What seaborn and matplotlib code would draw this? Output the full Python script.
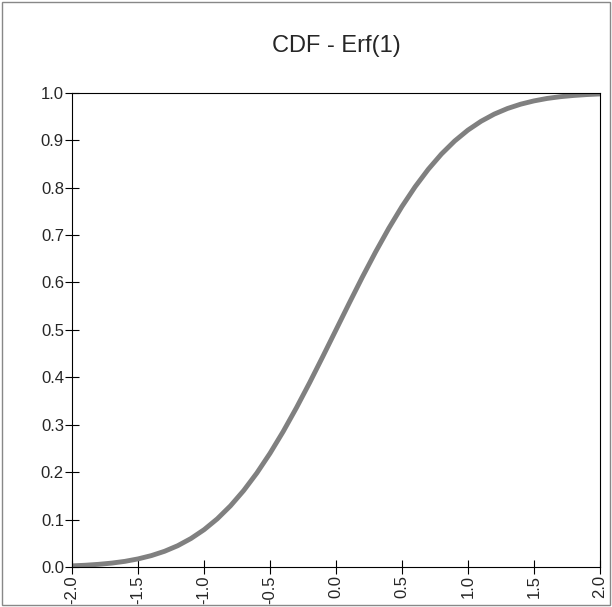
import matplotlib
matplotlib.use("Agg")
import matplotlib.pyplot as plt
import seaborn as sns
import pandas as pd

x_vals = [-2.0,-1.9,-1.8,-1.7,-1.6,-1.5,-1.4,-1.3,-1.2,-1.1,-1.0,-0.9,-0.8,-0.7,-0.6,-0.5,-0.4,-0.3,-0.2,-0.1,
          0.0,0.1,0.2,0.3,0.4,0.5,0.6,0.7,0.8,0.9,1.0,1.1,1.2,1.3,1.4,1.5,1.6,1.7,1.8,1.9,2.0]
neg = [0.0023,0.0036,0.0055,0.0081,0.0118,0.0170,0.0239,0.0330,0.0448,0.0599,0.0786,0.1015,0.1289,0.1611,
       0.1981,0.2398,0.2858,0.3357,0.3886,0.4438]
cdf_vals = neg + [0.5] + [round(1 - v, 4) for v in reversed(neg)]
x_ticks = [-2.0,-1.5,-1.0,-0.5,0.0,0.5,1.0,1.5,2.0]
y_ticks = [0.0,0.1,0.2,0.3,0.4,0.5,0.6,0.7,0.8,0.9,1.0]

sns.set_style("white")
plt.rcParams['font.family'] = ['Liberation Sans', 'DejaVu Sans']
df = pd.DataFrame({"x": x_vals, "y": cdf_vals})

fig = plt.figure(figsize=(6.12, 6.07), dpi=100)
ax = fig.add_axes([0.118, 0.066, 0.862, 0.781])
sns.lineplot(data=df, x="x", y="y", ax=ax, color="#808080", linewidth=3.5)
ax.set_xlim(-2, 2); ax.set_ylim(0, 1)
ax.set_xticks(x_ticks); ax.set_xticklabels([f"{t:.1f}" for t in x_ticks], rotation=90, fontsize=12)
ax.set_yticks(y_ticks); ax.set_yticklabels([f"{t:.1f}" for t in y_ticks], fontsize=12)
ax.tick_params(left=True, bottom=True, direction="inout", length=10, width=0.8, color="black", pad=1)
ax.set_xlabel(""); ax.set_ylabel("")
for s in ax.spines.values():
    s.set_color("black"); s.set_linewidth(0.8)
fig.text(0.5*(0.118+0.98), 0.925, "CDF - Erf(1)", ha="center", va="center", fontsize=17)
fig.add_artist(plt.Rectangle((0.003, 0.003), 0.994, 0.994, transform=fig.transFigure,
                             fill=False, edgecolor="#888888", linewidth=1))
fig.savefig("out.png", dpi=100)
